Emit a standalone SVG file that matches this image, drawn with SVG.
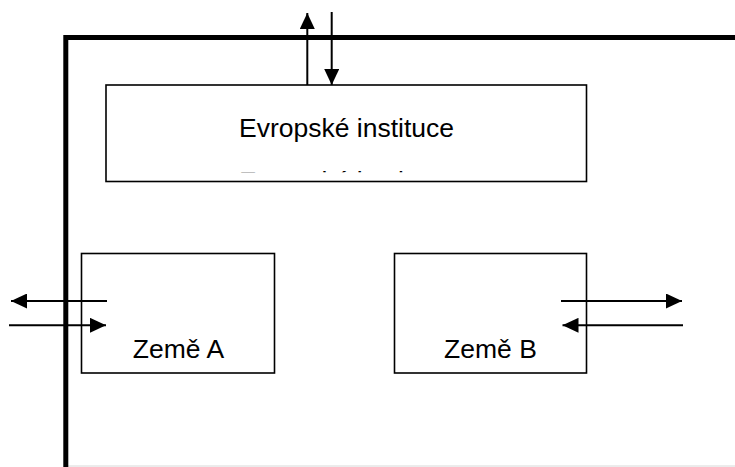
<svg xmlns="http://www.w3.org/2000/svg" width="735" height="467" viewBox="0 0 735 467">
  <style>
    .box { fill: #ffffff; stroke: #000000; stroke-width: 1.6; }
    .label { font-family: "Liberation Sans", Arial, sans-serif; font-size: 26.5px; fill: #000000; text-anchor: middle; }
    .flow { stroke: #000000; stroke-width: 2; fill: none; marker-end: url(#head); }
  </style>
  <defs>
    <marker id="head" markerUnits="userSpaceOnUse" markerWidth="16" markerHeight="15" refX="16" refY="7.5" orient="auto">
      <path d="M0,0 L16,7.5 L0,15 z" fill="#000000"/>
    </marker>
    <clipPath id="institutionClip">
      <rect x="107" y="86" width="478" height="86.3"/>
    </clipPath>
  </defs>

  <rect x="0" y="0" width="735" height="467" fill="#ffffff"/>

  <!-- outer border of the union -->
  <g id="frame">
    <line x1="68" y1="466" x2="735" y2="466" stroke="#d8d8d8" stroke-width="1"/>
    <path d="M65.8,467 L65.8,37.5 L735,37.5" fill="none" stroke="#000000" stroke-width="5"/>
  </g>

  <g id="institutions">
    <rect class="box" x="106" y="85" width="480.5" height="96.5"/>
    <g clip-path="url(#institutionClip)">
      <text class="label" x="346.5" y="137.3">Evropské instituce</text>
      <text class="label" x="346.5" y="189.8">Evropské instituce</text>
    </g>
  </g>

  <g id="country-a">
    <rect class="box" x="81.5" y="253.5" width="193" height="119.5"/>
    <text class="label" x="178.5" y="358">Země A</text>
  </g>

  <g id="country-b">
    <rect class="box" x="394.5" y="253.5" width="192" height="119.5"/>
    <text class="label" x="490.5" y="358">Země B</text>
  </g>

  <g id="connectors">
    <line class="flow" x1="307.3" y1="85" x2="307.3" y2="13"/>
    <line class="flow" x1="331.7" y1="12" x2="331.7" y2="85"/>
    <line class="flow" x1="107" y1="301" x2="11" y2="301"/>
    <line class="flow" x1="9" y1="325.3" x2="106" y2="325.3"/>
    <line class="flow" x1="561" y1="301" x2="682" y2="301"/>
    <line class="flow" x1="683" y1="325.3" x2="562.5" y2="325.3"/>
  </g>
</svg>
